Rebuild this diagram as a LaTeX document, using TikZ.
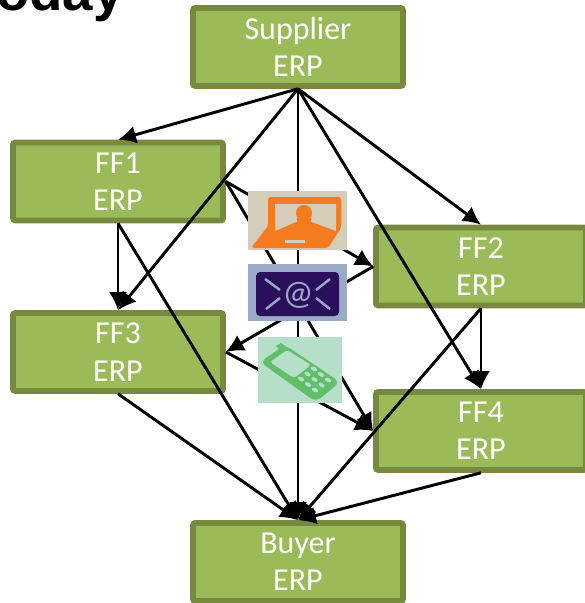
\documentclass[tikz,border=0pt]{standalone}
\usepackage{fontspec}
\setmainfont{Carlito}
\newfontfamily\titlefont{Liberation Sans}
\usetikzlibrary{arrows.meta}
\definecolor{boxfill}{HTML}{9BBB59}
\definecolor{boxline}{HTML}{76893E}
\definecolor{lapbg}{HTML}{D3CDB9}
\definecolor{laporange}{HTML}{F47B20}
\definecolor{mailbg}{HTML}{9AA9C6}
\definecolor{maildark}{HTML}{2B0F5C}
\definecolor{phonebg}{HTML}{B5DFC8}
\definecolor{phonegreen}{HTML}{62BE68}
\tikzset{
  erpbox/.style={draw=boxline,fill=boxfill,line width=4.2pt,rounded corners=1.5pt,
    minimum width=157.5pt,minimum height=58.5pt,inner sep=0pt,align=center,text=white,
    font=\fontsize{24}{28}\selectfont},
  link/.style={line width=2.2pt,-{Latex[length=13.5pt,width=13.5pt]}}
}
\begin{document}
\begin{tikzpicture}[x=0.75pt,y=-0.75pt]
\useasboundingbox (0,0) rectangle (585,603);
\clip (0,0) rectangle (585,603);
\node[anchor=base east,inner sep=0pt,font=\titlefont\bfseries\fontsize{41}{41}\selectfont] (title) at (124,11) {Today};
\node[erpbox] (sup) at (298,47) {Supplier\\ERP};
\node[erpbox] (ff1) at (118,181.5) {FF1\\ERP};
\node[erpbox] (ff2) at (481,266.5) {FF2\\ERP};
\node[erpbox] (ff3) at (118,352) {FF3\\ERP};
\node[erpbox] (ff4) at (481,431) {FF4\\ERP};
\node[erpbox] (buy) at (298,562) {Buyer\\ERP};
\draw[link] (sup.south) -- (ff1.north);
\draw[link] (sup.south) -- (ff2.north);
\draw[link] (sup.south) -- (ff3.north);
\draw[link] (sup.south) -- (ff4.north);
\draw[link] (sup.south) -- (buy.north);
\draw[link] (ff1.south) -- (ff3.north);
\draw[link] (ff1.south) -- (buy.north);
\draw[link] (ff1.east) -- (ff2.west);
\draw[link] (ff1.east) -- (ff4.west);
\draw[link] (ff2.west) -- (ff3.east);
\draw[link] (ff3.east) -- (ff4.west);
\draw[link] (ff2.south) -- (ff4.north);
\draw[link] (ff2.south) -- (buy.north);
\draw[link] (ff3.south) -- (buy.north);
\draw[link] (ff4.south) -- (buy.north);
% laptop icon
\fill[lapbg] (248,191) rectangle (347,250);
\fill[laporange,rounded corners=2pt] (251,248) -- (268,226) -- (268,197) -- (341,197) -- (341,228) -- (328,248) -- cycle;
\fill[lapbg] (275,204) -- (336,204) -- (336,231) -- (312,222) -- (296,222) -- (275,231) -- cycle;
\fill[laporange] (304,213) circle[radius=8];
\fill[laporange] (297,218) rectangle (311,224);
\fill[lapbg] (285,239.5) rectangle (305,243);
% mail icon
\fill[mailbg] (248,264) rectangle (347,321);
\fill[maildark,rounded corners=3pt] (256,272) rectangle (339,316);
\draw[mailbg,line width=1.8pt] (265,279) -- (280,290) (330,279) -- (316,290) (266,309) -- (280,298) (330,309) -- (316,298);
\node[text=mailbg,inner sep=0pt,font=\fontsize{26}{26}\selectfont] (at) at (298,295) {@};
% phone icon
\fill[phonebg] (258,337) rectangle (342,403);
\fill[phonegreen] (276,346) -- (281,343) -- (291,350) -- (284,354) -- cycle;
\fill[phonegreen,rounded corners=5pt] (260,362) -- (285,345) -- (340,382) -- (316,402) -- cycle;
\fill[phonebg,rounded corners=2pt] (270,362) -- (287,350) -- (311,365) -- (294,378) -- cycle;
\foreach \i in {0,1,2} \foreach \j in {0,1,2}
  \fill[phonebg,shift={({314+7*\i-6.5*\j},{369+5.5*\i+5*\j})},rotate=-30] (0,0) ellipse[x radius=3.4,y radius=2];
\end{tikzpicture}
\end{document}
